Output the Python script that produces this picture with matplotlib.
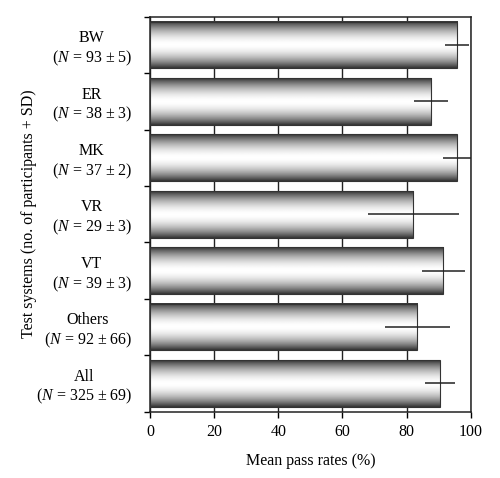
import numpy as np
import matplotlib
matplotlib.use("Agg")
import matplotlib.pyplot as plt

plt.rcParams['font.family'] = 'Liberation Serif'
plt.rcParams['mathtext.fontset'] = 'custom'
plt.rcParams['mathtext.rm'] = 'Liberation Serif'
plt.rcParams['mathtext.it'] = 'Liberation Serif:italic'

# data (top to bottom)
systems = ["BW", "ER", "MK", "VR", "VT", "Others", "All"]
n_mean = [93, 38, 37, 29, 39, 92, 325]
n_sd = [5, 3, 2, 3, 3, 66, 69]
pass_rate = [95.8, 87.7, 95.7, 82.1, 91.5, 83.3, 90.3]
pass_sd = [3.7, 5.3, 4.4, 14.1, 6.6, 10.1, 4.7]

labels = ["%s\n($N$ = %d ± %d)" % (s, m, sd)
          for s, m, sd in zip(systems, n_mean, n_sd)]
ypos = np.arange(len(systems))[::-1]
height = 0.83
fs = 11.5

fig = plt.figure(figsize=(5.0, 4.78), dpi=100)
ax = fig.add_axes([0.3, 0.139, 0.6414, 0.826])

# shading profile for the "cylinder" look
t = np.linspace(0, 1, 200)
peak = 0.5
d = (t - peak) / 0.5
shade = 1 - 0.8 * np.abs(d) ** 1.8
grad = shade[:, None]

for y, v in zip(ypos, pass_rate):
    ax.imshow(grad, cmap='gray', vmin=0, vmax=1, aspect='auto',
              extent=(0, v, y - height / 2, y + height / 2), zorder=2,
              interpolation='bilinear')
ax.barh(ypos, pass_rate, height=height, facecolor='none',
        edgecolor='#333333', linewidth=0.8, zorder=3)
ax.errorbar(pass_rate, ypos, xerr=pass_sd, fmt='none', ecolor='#222222',
            elinewidth=1.1, capsize=0, zorder=4)

ax.set_xlim(0, 100)
ax.set_ylim(-0.5, len(systems) - 0.5)
ax.set_xticks(np.arange(0, 101, 20))
ax.xaxis.grid(True, color='#222222', linewidth=1.0)
ax.set_axisbelow(True)

ax.set_yticks(ypos)
ax.set_yticklabels(labels, multialignment='center', ha='right')
ax.set_yticks(np.arange(-0.5, len(systems)), minor=True)
ax.tick_params(axis='y', which='major', length=0, pad=13, labelsize=fs)
ax.tick_params(axis='y', which='minor', length=4, direction='out', width=1)
ax.tick_params(axis='x', length=4, direction='out', width=1, labelsize=fs, pad=5)

for sp in ax.spines.values():
    sp.set_linewidth(1.1)
    sp.set_color('#222222')

ax.set_xlabel("Mean pass rates (%)", fontsize=fs, labelpad=9)
ax.set_ylabel("Test systems (no. of participants + SD)", fontsize=fs, labelpad=-1)

fig.savefig("out.png", dpi=100)
